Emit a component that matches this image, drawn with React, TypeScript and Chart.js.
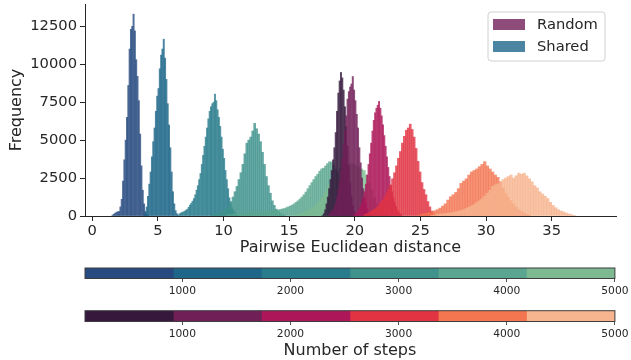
import React, { useEffect, useRef } from 'react';
import { Chart, registerables } from 'chart.js';

Chart.register(...registerables);

const FONT = '"DejaVu Sans", "Liberation Sans", sans-serif';
const INK = '#262626';

// ---- colour bars (number of steps) ----
const stepBounds = [100, 917, 1733, 2550, 3367, 4183, 5000];
const stepTicks = [1000, 2000, 3000, 4000, 5000];
const sharedColors = ['#274b80', '#1e6789', '#297c8c', '#40928c', '#5aa690', '#7dba91'];
const randomColors = ['#35183c', '#701f57', '#ad1759', '#e13342', '#f37651', '#f6b48f'];

// ---- main axes ----
const distTicks = [0, 5, 10, 15, 20, 25, 30, 35];
const freqTicks = [0, 2500, 5000, 7500, 10000, 12500];
const distRange = [-0.55, 39.9];
const freqMax = 13970;

const legendLabels = ['Random', 'Shared'];

// ---- histogram bins: first bin edge, bin width, counts ----
const sharedStarts = [1.5, 3.9, 6.6, 9.0, 10.2, 15.4];
const sharedWidths = [0.1, 0.1, 0.1, 0.15, 0.15, 0.2];
const shared100 = [60, 120, 180, 250, 280, 300, 600, 1100, 2300, 3700, 5000, 6500, 8600, 11000, 12300, 12500, 13300, 12200, 10300, 9200, 7600, 5400, 3300, 1700, 800, 300, 120, 50];
const shared1000 = [50, 200, 600, 1300, 2100, 2900, 3900, 4900, 5800, 6900, 7900, 8400, 9700, 10600, 11000, 11650, 10400, 9000, 7400, 6000, 4500, 2900, 1600, 800, 350, 150, 60];
const shared2000 = [150, 200, 230, 280, 320, 380, 450, 580, 720, 850, 980, 1150, 1400, 1700, 2000, 2400, 2800, 3400, 4000, 4600, 5200, 5800, 6400, 6900, 7200, 7400, 7500, 8030, 7600, 7000, 6500, 5900, 5200, 4400, 3800, 3000, 2400, 1800, 1200, 850, 550, 380, 250, 170, 100];
const shared3000 = [60, 90, 110, 140, 170, 220, 300, 400, 520, 700, 950, 1250, 1600, 1950, 2400, 2850, 3400, 4100, 4800, 5000, 5200, 5600, 6100, 5750, 5400, 4900, 4200, 3400, 2600, 2000, 1500, 1000, 700, 450, 300, 200, 120, 70];
const shared4000 = [60, 80, 100, 110, 130, 140, 150, 160, 170, 180, 190, 200, 210, 220, 230, 240, 250, 260, 270, 280, 290, 300, 320, 340, 360, 380, 400, 430, 460, 490, 540, 600, 650, 720, 800, 900, 1000, 1120, 1250, 1400, 1580, 1800, 2000, 2200, 2400, 2600, 2750, 2950, 3100, 3150, 3300, 3450, 3580, 3550, 3350, 3100, 2800, 2400, 2000, 1600, 1200, 850, 550, 320, 180, 90];
const shared5000 = [80, 130, 180, 230, 300, 380, 480, 600, 750, 950, 1200, 1500, 1800, 2100, 2400, 2700, 2950, 3100, 3250, 3350, 3400, 3450, 3400, 3300, 3200, 3100, 3000, 2700, 2200, 1700, 1200, 800, 450, 250, 120, 50];

const randomStarts = [17.5, 18.0, 19.9, 20.7, 24.8, 25.8];
const randomWidths = [0.1, 0.1, 0.1, 0.15, 0.2, 0.2];
const random100 = [40, 150, 400, 800, 1250, 1800, 2400, 3000, 3700, 4500, 5500, 6900, 8100, 8900, 9460, 9100, 8300, 7200, 5900, 4600, 3300, 2200, 1300, 700, 300, 120, 40];
const random1000 = [100, 200, 300, 420, 600, 850, 1250, 1750, 2300, 3000, 3800, 4700, 5600, 6600, 7700, 8200, 8500, 8700, 9190, 8300, 7600, 6700, 5800, 4500, 3500, 2500, 1800, 1250, 800, 480, 280, 140, 60];
const random2000 = [60, 120, 200, 320, 480, 650, 900, 1200, 1600, 2100, 2700, 3400, 4100, 4800, 5600, 6300, 6800, 7100, 7300, 7550, 7100, 6600, 6000, 5300, 4600, 3900, 3200, 2600, 2000, 1600, 1200, 900, 620, 400, 250, 140, 70];
const random3000 = [100, 150, 220, 300, 380, 460, 560, 700, 880, 1050, 1250, 1500, 1750, 2050, 2450, 2850, 3300, 3800, 4250, 4800, 5250, 5650, 5800, 6050, 5700, 5200, 4450, 3600, 2900, 2200, 1750, 1400, 950, 600, 320, 150, 60];
const random4000 = [60, 110, 150, 180, 220, 280, 350, 420, 520, 650, 800, 1050, 1270, 1400, 1550, 1800, 2150, 2300, 2450, 2700, 2900, 3000, 3100, 3250, 3400, 3580, 3300, 3100, 2900, 2700, 2550, 2250, 1850, 1500, 1250, 1000, 800, 580, 420, 300, 200, 120, 60];
const random5000 = [50, 80, 100, 120, 140, 160, 180, 200, 240, 280, 320, 370, 420, 500, 580, 660, 740, 880, 1000, 1150, 1320, 1500, 1700, 1950, 2050, 2120, 2200, 2400, 2500, 2600, 2700, 2500, 2650, 2820, 2750, 2820, 2650, 2450, 2250, 2000, 1850, 1600, 1450, 1300, 1150, 900, 700, 550, 420, 330, 270, 200, 140, 90, 40];

const sharedCounts = [shared100, shared1000, shared2000, shared3000, shared4000, shared5000];
const randomCounts = [random100, random1000, random2000, random3000, random4000, random5000];

const ALPHA = 0.8;

function rgba(hex: string, a: number) {
  const n = parseInt(hex.slice(1), 16);
  return `rgba(${(n >> 16) & 255}, ${(n >> 8) & 255}, ${n & 255}, ${a})`;
}

function axisForWidth(w: number) {
  if (w === 0.1) return 'x';
  if (w === 0.15) return 'x2';
  return 'x3';
}

function setTicks(values: number[]) {
  return (scale: any) => {
    scale.ticks = values.map((v) => ({ value: v }));
  };
}

const plain = (v: any) => String(v);

const legendPlugin = {
  id: 'boxLegend',
  afterDraw(chart: any) {
    const { ctx, chartArea } = chart;
    const w = 117;
    const h = 49;
    const x = chartArea.right - 11 - w;
    const y = chartArea.top + 8;
    ctx.save();
    ctx.beginPath();
    const r = 3;
    ctx.moveTo(x + r, y);
    ctx.lineTo(x + w - r, y);
    ctx.quadraticCurveTo(x + w, y, x + w, y + r);
    ctx.lineTo(x + w, y + h - r);
    ctx.quadraticCurveTo(x + w, y + h, x + w - r, y + h);
    ctx.lineTo(x + r, y + h);
    ctx.quadraticCurveTo(x, y + h, x, y + h - r);
    ctx.lineTo(x, y + r);
    ctx.quadraticCurveTo(x, y, x + r, y);
    ctx.closePath();
    ctx.fillStyle = 'rgba(255,255,255,0.8)';
    ctx.fill();
    ctx.strokeStyle = '#d0d0d0';
    ctx.lineWidth = 1;
    ctx.stroke();
    const patchColors = [rgba(randomColors[1], ALPHA), rgba(sharedColors[1], ALPHA)];
    legendLabels.forEach((label, i) => {
      const rowY = y + 7 + i * 22;
      ctx.fillStyle = patchColors[i];
      ctx.fillRect(x + 5, rowY, 32, 11);
      ctx.fillStyle = INK;
      ctx.font = `14.7px ${FONT}`;
      ctx.textBaseline = 'middle';
      ctx.textAlign = 'left';
      ctx.fillText(label, x + 49, rowY + 6);
    });
    ctx.restore();
  },
};

const outlinePlugin = {
  id: 'cbOutline',
  afterDatasetsDraw(chart: any) {
    const { ctx, chartArea } = chart;
    ctx.save();
    ctx.strokeStyle = '#3d3d3d';
    ctx.lineWidth = 1;
    ctx.strokeRect(chartArea.left, chartArea.top, chartArea.right - chartArea.left, chartArea.bottom - chartArea.top);
    ctx.restore();
  },
};

function MainChart() {
  const ref = useRef<HTMLCanvasElement>(null);
  useEffect(() => {
    const groups = [
      { counts: sharedCounts, starts: sharedStarts, widths: sharedWidths, colors: sharedColors },
      { counts: randomCounts, starts: randomStarts, widths: randomWidths, colors: randomColors },
    ];
    const datasets: any[] = [];
    groups.forEach((g) => {
      g.counts.forEach((counts, k) => {
        const start = g.starts[k];
        const w = g.widths[k];
        datasets.push({
          type: 'bar',
          data: counts.map((c, i) => ({ x: Math.round((start + (i + 0.5) * w) * 1000) / 1000, y: c })),
          xAxisID: axisForWidth(w),
          backgroundColor: rgba(g.colors[k], ALPHA),
          borderWidth: 0,
          grouped: false,
          barPercentage: 1,
          categoryPercentage: 1,
        });
      });
    });
    const n = datasets.length;
    datasets.forEach((d, i) => (d.order = n - i));

    const hiddenX = {
      type: 'linear',
      display: false,
      offset: false,
      grid: { offset: false },
      min: distRange[0],
      max: distRange[1],
      afterBuildTicks: setTicks(distTicks),
    };

    const chart = new Chart(ref.current as HTMLCanvasElement, {
      type: 'bar',
      data: { datasets },
      plugins: [legendPlugin],
      options: {
        animation: false,
        responsive: false,
        devicePixelRatio: 1,
        events: [],
        layout: { padding: { left: 0, right: 15, top: 4, bottom: 0 } },
        plugins: { legend: { display: false }, tooltip: { enabled: false } },
        scales: {
          x: {
            type: 'linear',
            offset: false,
            min: distRange[0],
            max: distRange[1],
            afterBuildTicks: setTicks(distTicks),
            afterFit: (s: any) => { s.height = 46; },
            grid: { offset: false, drawOnChartArea: false, drawTicks: true, tickLength: 5, color: INK, lineWidth: 1 },
            border: { display: true, color: INK, width: 1 },
            ticks: { color: INK, font: { family: FONT, size: 14.7 }, padding: 1, maxRotation: 0, callback: plain },
            title: { display: true, text: 'Pairwise Euclidean distance', color: INK, font: { family: FONT, size: 16 }, padding: { top: 0, bottom: 4.4 } },
          },
          x2: hiddenX,
          x3: { ...hiddenX },
          y: {
            type: 'linear',
            min: 0,
            max: freqMax,
            afterBuildTicks: setTicks(freqTicks),
            afterFit: (s: any) => { s.width = 85; s.paddingTop = 0; s.paddingBottom = 0; },
            grid: { drawOnChartArea: false, drawTicks: true, tickLength: 5, color: INK, lineWidth: 1 },
            border: { display: true, color: INK, width: 1 },
            ticks: { color: INK, font: { family: FONT, size: 14.7 }, padding: 3, callback: plain },
            title: { display: true, text: 'Frequency', color: INK, font: { family: FONT, size: 16 }, padding: { top: 7.4, bottom: 0 } },
          },
        },
      } as any,
    });
    return () => chart.destroy();
  }, []);
  return <canvas ref={ref} width={631} height={262} style={{ position: 'absolute', left: 0, top: 0, width: 631, height: 262 }} />;
}

function ColorBar(props: { colors: string[]; top: number; height: number; padTop: number; barHeight: number; title?: string }) {
  const ref = useRef<HTMLCanvasElement>(null);
  useEffect(() => {
    const datasets = props.colors.map((c, i) => ({
      data: [[stepBounds[i], stepBounds[i + 1]]],
      backgroundColor: c,
      borderWidth: 0,
      grouped: false,
      barPercentage: 1,
      categoryPercentage: 1,
    }));
    const axisHeight = props.height - props.padTop - props.barHeight;
    const chart = new Chart(ref.current as HTMLCanvasElement, {
      type: 'bar',
      data: { labels: [''], datasets },
      plugins: [outlinePlugin],
      options: {
        indexAxis: 'y',
        animation: false,
        responsive: false,
        devicePixelRatio: 1,
        events: [],
        layout: { padding: { left: 85, right: 15, top: props.padTop, bottom: 0 } },
        plugins: { legend: { display: false }, tooltip: { enabled: false } },
        scales: {
          y: { type: 'category', display: false },
          x: {
            type: 'linear',
            offset: false,
            min: stepBounds[0],
            max: stepBounds[stepBounds.length - 1],
            afterBuildTicks: setTicks(stepTicks),
            afterFit: (s: any) => { s.height = axisHeight; },
            grid: { offset: false, drawOnChartArea: false, drawTicks: true, tickLength: 3.5, color: INK, lineWidth: 0.8 },
            border: { display: false },
            ticks: { color: INK, font: { family: FONT, size: 10.7 }, padding: 2.5, maxRotation: 0, callback: plain },
            title: props.title
              ? { display: true, text: props.title, color: INK, font: { family: FONT, size: 16 }, padding: { top: 0, bottom: 0 } }
              : { display: false },
          },
        },
      } as any,
    });
    return () => chart.destroy();
  }, []);
  return (
    <canvas
      ref={ref}
      width={631}
      height={props.height}
      style={{ position: 'absolute', left: 0, top: props.top, width: 631, height: props.height }}
    />
  );
}

export default function App() {
  return (
    <div style={{ position: 'absolute', left: 0, top: 0, width: 631, height: 360, overflow: 'hidden', background: '#fff' }}>
      <MainChart />
      <ColorBar colors={sharedColors} top={262} height={44} padTop={6} barHeight={10.5} />
      <ColorBar colors={randomColors} top={306} height={54} padTop={4.7} barHeight={10.8} title="Number of steps" />
    </div>
  );
}
